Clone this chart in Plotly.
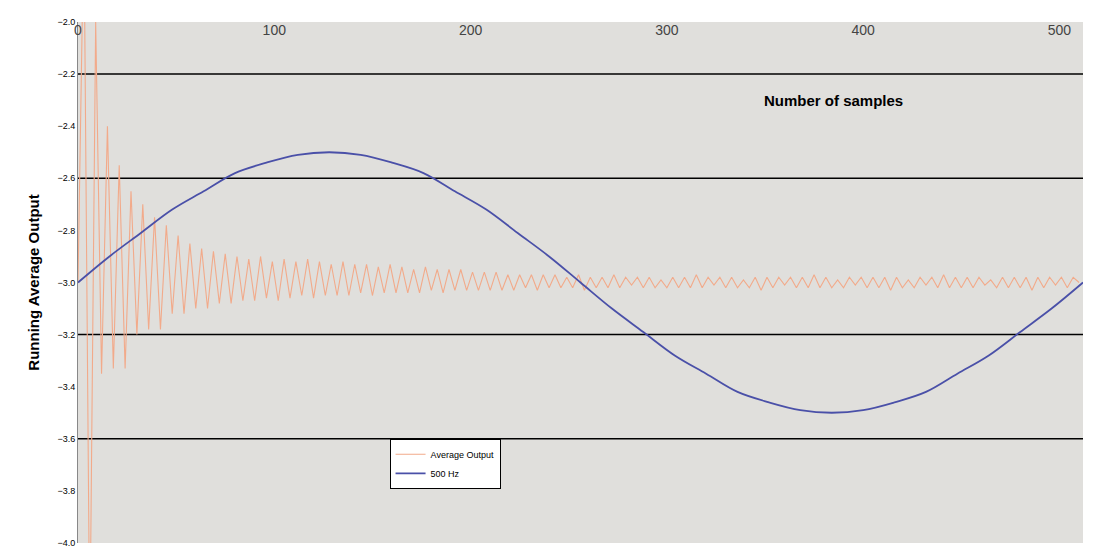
import plotly.graph_objects as go

# sine reference, read every 16 samples
sine_x = list(range(0, 513, 16))
sine_y = [-3.00, -2.90, -2.81, -2.72, -2.65, -2.58, -2.54, -2.51, -2.50, -2.51, -2.54,
          -2.58, -2.65, -2.72, -2.81, -2.90, -3.00, -3.10, -3.19, -3.28, -3.35, -3.42,
          -3.46, -3.49, -3.50, -3.49, -3.46, -3.42, -3.35, -3.28, -3.19, -3.10, -3.00]

# running average output, read every 3 samples
avg_y = [
    -3.00, -1.60, -4.40, -2.00, -3.35, -2.40, -3.33, -2.55, -3.33, -2.65,
    -3.20, -2.70, -3.18, -2.75, -3.18, -2.78, -3.12, -2.82, -3.12, -2.85,
    -3.10, -2.87, -3.10, -2.88, -3.08, -2.89, -3.08, -2.90, -3.07, -2.91,
    -3.07, -2.90, -3.06, -2.92, -3.07, -2.91, -3.06, -2.92, -3.05, -2.91,
    -3.06, -2.92, -3.05, -2.93, -3.05, -2.92, -3.05, -2.93, -3.04, -2.93,
    -3.05, -2.94, -3.04, -2.93, -3.04, -2.94, -3.04, -2.95, -3.04, -2.94,
    -3.03, -2.95, -3.04, -2.95, -3.03, -2.95, -3.03, -2.96, -3.03, -2.96,
    -3.03, -2.96, -3.03, -2.97, -3.03, -2.97, -3.02, -2.97, -3.03, -2.97,
    -3.02, -2.97, -3.02, -2.98, -3.02, -2.97, -3.03, -2.98, -3.02, -2.98,
    -3.02, -2.97, -3.02, -2.98, -3.01, -2.98, -3.02, -2.98, -3.02, -2.99,
    -3.02, -2.98, -3.02, -2.98, -3.02, -2.97, -3.02, -2.98, -3.01, -2.98,
    -3.02, -2.98, -3.02, -2.99, -3.02, -2.98, -3.03, -2.98, -3.02, -2.98,
    -3.01, -2.98, -3.02, -2.98, -3.02, -2.97, -3.02, -2.98, -3.02, -2.99,
    -3.02, -2.98, -3.01, -2.98, -3.02, -2.98, -3.02, -2.98, -3.03, -2.98,
    -3.02, -2.99, -3.02, -2.98, -3.01, -2.98, -3.02, -2.97, -3.02, -2.98,
    -3.02, -2.98, -3.02, -2.98, -3.01, -2.99, -3.02, -2.98, -3.02, -2.98,
    -3.02, -2.98, -3.03, -2.98, -3.02, -2.98, -3.01, -2.98, -3.02, -2.98,
    -3.00,
]
avg_x = [3 * i for i in range(len(avg_y))]

y_ticks = [-2.0, -2.2, -2.4, -2.6, -2.8, -3.0, -3.2, -3.4, -3.6, -3.8, -4.0]
grid_lines = [-2.2, -2.6, -3.2, -3.6]
x_ticks = [0, 100, 200, 300, 400, 500]

fig = go.Figure()
fig.add_trace(go.Scatter(x=avg_x, y=avg_y, mode='lines', name='Average Output',
                         line=dict(color='#f2aa8a', width=1.1)))
fig.add_trace(go.Scatter(x=sine_x, y=sine_y, mode='lines', name='500 Hz', line_shape='spline',
                         line=dict(color='#4a50a8', width=1.8)))

for g in grid_lines:
    fig.add_shape(type='line', xref='paper', x0=0, x1=1, y0=g, y1=g,
                  line=dict(color='black', width=1.5), layer='below')

fig.add_annotation(x=385, y=-2.3, text='<b>Number of samples</b>', showarrow=False,
                   font=dict(size=15, color='black'))

fig.update_layout(
    width=1100, height=550,
    margin=dict(l=70, r=25, t=14, b=15, autoexpand=False),
    paper_bgcolor='white',
    plot_bgcolor='#e0dfdc',
    font=dict(family='Arial, Liberation Sans', color='black'),
    xaxis=dict(range=[0, 512], side='top', tickvals=x_ticks, ticklabelposition='inside',
               ticklabeloverflow='allow', showgrid=False, zeroline=False,
               tickfont=dict(size=14), showline=False),
    yaxis=dict(range=[-4.0, -2.0], tickvals=y_ticks, tickformat='.1f', showgrid=False,
               ticklabeloverflow='allow', zeroline=False, tickfont=dict(size=9),
               showline=True, linecolor='#888', automargin=False,
               title=dict(text='<b>Running Average Output</b>', font=dict(size=15), standoff=14)),
    legend=dict(x=0.31, y=0.2, xanchor='left', yanchor='top', bgcolor='white',
                bordercolor='black', borderwidth=1, font=dict(size=9)),
)

fig.write_html("out.html")
